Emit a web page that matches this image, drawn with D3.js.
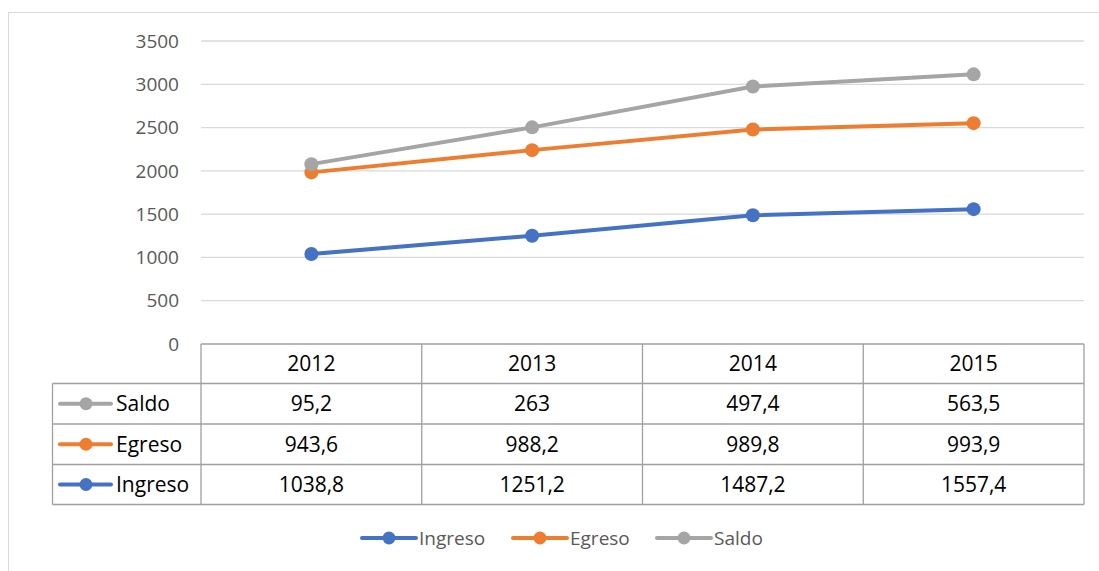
<!DOCTYPE html>
<html>
<head>
<meta charset="utf-8">
<script src="https://cdn.jsdelivr.net/npm/d3@7"></script>
<style>
  body { margin: 0; background: #fff; }
  svg { display: block; font-family: "Open Sans", "Noto Sans", sans-serif; }
</style>
</head>
<body>
<div id="chart"></div>
<script>
// data
var years = ["2012", "2013", "2014", "2015"];
var ingreso = [1038.8, 1251.2, 1487.2, 1557.4];
var egreso = [943.6, 988.2, 989.8, 993.9];
var saldo = [95.2, 263, 497.4, 563.5];
var yTicks = [0, 500, 1000, 1500, 2000, 2500, 3000, 3500];
var seriesNames = ["Ingreso", "Egreso", "Saldo"];
var seriesColors = ["#4472C4", "#ED7D31", "#A5A5A5"];

var W = 1099, H = 571;
var svg = d3.select("#chart").append("svg")
  .attr("width", W).attr("height", H);

// outer frame (runs off the right and bottom)
svg.append("rect")
  .attr("x", 8.5).attr("y", 12.5)
  .attr("width", W + 10).attr("height", H + 10)
  .attr("fill", "none").attr("stroke", "#d9d9d9");

var plotL = 201, plotR = 1084, plotT = 41, plotB = 344;

var x = d3.scaleBand().domain(years).range([plotL, plotR]);
var y = d3.scaleLinear().domain([0, 3500]).range([plotB, plotT]);

// gridlines
svg.append("g").selectAll("line")
  .data(yTicks.filter(function (d) { return d > 0; }))
  .enter().append("line")
    .attr("x1", plotL).attr("x2", plotR)
    .attr("y1", function (d) { return y(d); })
    .attr("y2", function (d) { return y(d); })
    .attr("stroke", "#d9d9d9").attr("stroke-width", 1.3);

// y tick labels
svg.append("g").selectAll("text")
  .data(yTicks)
  .enter().append("text")
    .attr("x", 179)
    .attr("y", function (d) { return y(d); })
    .attr("dy", "0.35em")
    .attr("text-anchor", "end")
    .attr("fill", "#595959")
    .style("font-size", "19px")
    .text(function (d) { return d; });

// stacked values
var raw = [ingreso, egreso, saldo];
var stacked = [];
var acc = [0, 0, 0, 0];
raw.forEach(function (s) {
  acc = acc.map(function (a, i) { return a + s[i]; });
  stacked.push(acc.slice());
});

var cx = function (d, i) { return x(years[i]) + x.bandwidth() / 2; };
var line = d3.line()
  .x(cx)
  .y(function (d) { return y(d); });

stacked.forEach(function (vals, k) {
  var g = svg.append("g");
  g.append("path")
    .datum(vals)
    .attr("fill", "none")
    .attr("stroke", seriesColors[k])
    .attr("stroke-width", 4)
    .attr("stroke-linecap", "round")
    .attr("d", line);
  g.selectAll("circle")
    .data(vals)
    .enter().append("circle")
      .attr("cx", cx)
      .attr("cy", function (d) { return y(d); })
      .attr("r", 7)
      .attr("fill", seriesColors[k]);
});

// data table
var rowTops = [344, 383.5, 424, 464.5, 504.5];
var tableLeft = 52.5;
var tg = svg.append("g").attr("stroke", "#a0a0a0").attr("stroke-width", 1.3);

tg.append("line").attr("x1", plotL).attr("x2", plotR).attr("y1", rowTops[0]).attr("y2", rowTops[0]);
[1, 2, 3, 4].forEach(function (r) {
  tg.append("line").attr("x1", tableLeft).attr("x2", plotR)
    .attr("y1", rowTops[r]).attr("y2", rowTops[r]);
});
tg.append("line").attr("x1", tableLeft).attr("x2", tableLeft).attr("y1", rowTops[1]).attr("y2", rowTops[4]);
years.forEach(function (yr) {
  tg.append("line").attr("x1", x(yr)).attr("x2", x(yr)).attr("y1", rowTops[0]).attr("y2", rowTops[4]);
});
tg.append("line").attr("x1", plotR).attr("x2", plotR).attr("y1", rowTops[0]).attr("y2", rowTops[4]);

// header text
svg.append("g").selectAll("text")
  .data(years)
  .enter().append("text")
    .attr("x", function (d) { return x(d) + x.bandwidth() / 2; })
    .attr("y", (rowTops[0] + rowTops[1]) / 2)
    .attr("dy", "0.35em")
    .attr("text-anchor", "middle")
    .attr("fill", "#000")
    .style("font-size", "21px")
    .text(function (d) { return d; });

// table rows: Saldo, Egreso, Ingreso
var order = [2, 1, 0];
order.forEach(function (k, r) {
  var ry = (rowTops[r + 1] + rowTops[r + 2]) / 2;
  var row = svg.append("g");
  row.append("line")
    .attr("x1", 60).attr("x2", 111)
    .attr("y1", ry).attr("y2", ry)
    .attr("stroke", seriesColors[k]).attr("stroke-width", 4)
    .attr("stroke-linecap", "round");
  row.append("circle").attr("cx", 86).attr("cy", ry).attr("r", 6.5)
    .attr("fill", seriesColors[k]);
  row.append("text")
    .attr("x", 116).attr("y", ry).attr("dy", "0.35em")
    .attr("fill", "#000").style("font-size", "21px")
    .text(seriesNames[k]);
  row.selectAll("text.v")
    .data(raw[k])
    .enter().append("text")
      .attr("class", "v")
      .attr("x", cx)
      .attr("y", ry).attr("dy", "0.35em")
      .attr("text-anchor", "middle")
      .attr("fill", "#000").style("font-size", "21px")
      .text(function (d) { return String(d).replace(".", ","); });
});

// legend
var legendX = [362, 513, 657];
var ly = 538;
seriesNames.forEach(function (name, k) {
  var g = svg.append("g").attr("transform", "translate(" + legendX[k] + "," + ly + ")");
  g.append("line").attr("x1", 0).attr("x2", 54).attr("y1", 0).attr("y2", 0)
    .attr("stroke", seriesColors[k]).attr("stroke-width", 4)
    .attr("stroke-linecap", "round");
  g.append("circle").attr("cx", 27).attr("cy", 0).attr("r", 6.5)
    .attr("fill", seriesColors[k]);
  g.append("text").attr("x", 57).attr("y", 0).attr("dy", "0.35em")
    .attr("fill", "#595959").style("font-size", "19px")
    .text(name);
});
</script>
</body>
</html>
